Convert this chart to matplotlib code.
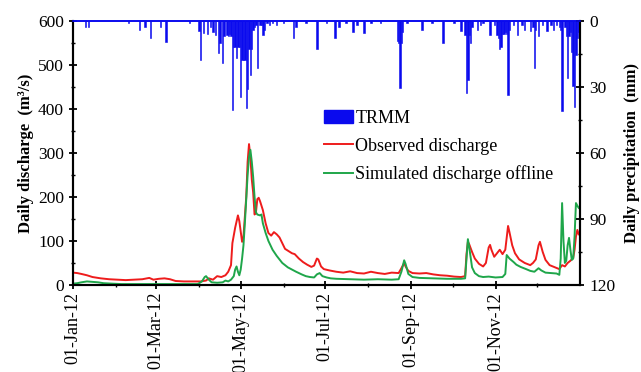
import numpy as np
import pandas as pd
import matplotlib
matplotlib.use("Agg")
import matplotlib.pyplot as plt
import matplotlib.dates as mdates
from matplotlib.patches import Patch
from matplotlib.lines import Line2D

plt.rcParams['font.family'] = ['Liberation Serif', 'DejaVu Serif']

start = pd.Timestamp("2012-01-01")

# observed discharge (day of year from 1 Jan 2012, m3/s)
obs_day = [0, 3, 6, 10, 14, 20, 26, 32, 38, 44, 50, 55, 58, 62, 66, 70, 74, 80, 86, 92,
           96, 98, 101, 104, 107, 110, 112, 114, 115, 117, 119, 120, 122, 123, 125, 126,
           127, 128, 129, 130, 131, 132, 133, 134, 135, 137, 139, 141, 143, 145, 147, 149,
           151, 153, 156, 158, 160, 163, 166, 169, 172, 174, 176, 177, 179, 181, 185, 190,
           195, 200, 205, 210, 215, 220, 225, 230, 235, 237, 239, 240, 242, 245, 250, 255,
           260, 265, 270, 275, 280, 283, 284, 285, 286, 288, 290, 293, 296, 298, 300, 301,
           302, 304, 306, 308, 310, 312, 314, 315, 317, 319, 322, 326, 330, 332, 334, 336,
           337, 339, 341, 344, 348, 351, 353, 355, 357, 359, 361, 362, 363, 364, 365]
obs_val = [28, 27, 25, 22, 18, 15, 13, 12, 11, 12, 13, 16, 12, 14, 15, 13, 9, 8, 8, 8,
           10, 15, 12, 20, 18, 22, 30, 45, 95, 130, 158, 145, 98, 110, 200, 280,
           320, 290, 240, 210, 160, 165, 195, 198, 190, 170, 140, 118, 112, 120, 115, 108,
           95, 82, 76, 72, 70, 60, 52, 46, 41, 44, 60, 58, 42, 36, 33, 30,
           28, 31, 27, 26, 30, 27, 25, 28, 27, 38, 50, 42, 32, 27, 26, 27,
           24, 22, 21, 19, 18, 20, 70, 98, 92, 75, 60, 48, 42, 50, 85, 91,
           80, 64, 72, 80, 70, 80, 134, 120, 90, 72, 58, 50, 45, 50, 58, 90,
           98, 75, 57, 45, 40, 36, 45, 42, 50, 55, 61, 80, 110, 125, 115]

# simulated discharge offline
sim_day = [0, 3, 6, 10, 14, 18, 22, 28, 35, 50, 70, 90, 93, 95, 96, 98, 100, 104, 108,
           110, 112, 114, 116, 117, 118, 119, 120, 121, 122, 123, 124, 125, 126, 127, 128,
           129, 130, 131, 132, 133, 135, 136, 137, 139, 141, 144, 147, 151, 155, 158, 161,
           165, 168, 171, 174, 176, 178, 180, 183, 186, 190, 200, 210, 220, 230, 235, 237,
           239, 240, 242, 245, 250, 260, 270, 280, 283, 284, 285, 286, 288, 290, 293, 296,
           300, 305, 310, 312, 313, 315, 318, 320, 323, 327, 330, 333, 336, 338, 341, 345,
           349, 351, 352, 353, 354, 355, 356, 357, 358, 359, 360, 361, 362, 363, 364, 365]
sim_val = [3, 4, 6, 8, 7, 6, 4, 3, 2, 2, 2, 2, 8, 18, 20, 12, 6, 5, 6,
           10, 8, 12, 20, 35, 42, 30, 22, 35, 60, 90, 140, 195, 250, 290, 307,
           280, 245, 200, 165, 160, 158, 160, 140, 118, 100, 80, 66, 50, 40, 35, 30,
           24, 20, 18, 17, 24, 27, 20, 17, 15, 14, 13, 12, 13, 12, 13, 30,
           56, 48, 25, 18, 16, 15, 14, 14, 15, 60, 104, 85, 40, 27, 20, 18,
           19, 17, 18, 25, 68, 60, 52, 46, 41, 36, 32, 30, 38, 33, 28, 27,
           26, 23, 60, 186, 100, 50, 55, 90, 107, 80, 57, 60, 110, 186, 180, 175]

# TRMM daily precipitation (mm)
rain_day = [9, 11, 40, 48, 52, 56, 63, 67, 84, 91, 92, 94, 97, 99, 101, 103, 105, 106, 108,
            109, 111, 112, 113, 114, 115, 116, 117, 118, 119, 120, 121, 122, 123, 124, 125,
            126, 127, 128, 129, 130, 131, 132, 133, 135, 136, 137, 138, 140, 142, 144, 147,
            152, 159, 161, 168, 176, 183, 189, 192, 197, 202, 205, 210, 215, 222, 234, 235,
            236, 237, 238, 241, 252, 259, 267, 275, 280, 283, 284, 285, 286, 287, 288, 292,
            294, 296, 301, 304, 306, 307, 308, 309, 310, 311, 312, 313, 314, 315, 318, 321,
            324, 326, 330, 332, 333, 334, 336, 339, 342, 345, 347, 349, 351, 352, 353, 355,
            356, 357, 358, 359, 360, 361, 362, 363, 364, 365]
rain_mm = [2.6, 2.6, 1, 4, 3, 7.7, 2.6, 9.5, 1, 4.8, 17.7, 5.6, 6, 3, 5, 6.4, 14.6, 10, 19,
           7, 6.4, 7, 6, 7, 40.5, 12, 12, 17, 12, 12, 34.4, 18, 18, 17.7, 39.7,
           31, 13, 24.5, 13, 4, 3, 2, 21.5, 2, 2, 6.4, 4, 1, 2, 1, 2,
           1, 7.8, 3, 1, 13, 1, 7.8, 2.6, 1, 5, 2, 5.6, 1, 1, 9, 10,
           30.6, 10, 5, 1, 4, 1, 10, 1, 4.8, 6.4, 32.7, 27, 6.4, 10, 3, 4,
           2, 1, 6.4, 2, 6.4, 8, 13, 11.7, 6, 6, 5, 6, 33.6, 4, 2, 6.4,
           2, 4, 4.8, 3, 21.5, 4, 7, 2, 4.8, 2, 4, 2, 3, 4, 41, 3,
           7, 26, 7, 5, 14, 29.8, 39, 15.5, 8, 5]

obs_t = start + pd.to_timedelta(obs_day, unit="D")
sim_t = start + pd.to_timedelta(sim_day, unit="D")
rain_t = start + pd.to_timedelta(rain_day, unit="D")

fig = plt.figure(figsize=(6.41, 3.72), dpi=100)
ax = fig.add_axes([0.114, 0.234, 0.791, 0.71])
ax2 = ax.twinx()

red = '#ee1c1c'
green = '#1fa64a'
blue = '#0a0aee'

ax.plot(obs_t, obs_val, color=red, lw=1.4, zorder=3)
ax.plot(sim_t, sim_val, color=green, lw=1.4, zorder=4)
ax2.bar(rain_t, rain_mm, width=1.0, color=blue, edgecolor=blue, linewidth=0.4)

ax.set_xlim(pd.Timestamp("2012-01-01"), pd.Timestamp("2013-01-01"))
ax.set_ylim(0, 600)
ax2.set_ylim(120, 0)
ax.set_yticks(np.arange(0, 601, 100))
ax.set_yticks(np.arange(0, 601, 50), minor=True)
ax2.set_yticks(np.arange(0, 121, 30))
ax2.set_yticks(np.arange(0, 121, 15), minor=True)

major_dates = pd.date_range("2012-01-01", "2012-11-01", freq="2MS")
minor_dates = pd.date_range("2012-02-01", "2012-12-01", freq="2MS")
ax.set_xticks(major_dates)
ax.set_xticks(minor_dates, minor=True)
ax.xaxis.set_major_formatter(mdates.DateFormatter("%d-%b-%y"))
plt.setp(ax.get_xticklabels(), rotation=90)

for a in (ax, ax2):
    a.spines['top'].set_color(blue)
    a.spines['top'].set_linewidth(1.2)
    for s in ('left', 'right', 'bottom'):
        a.spines[s].set_linewidth(1.5)
    a.tick_params(which='major', direction='inout', length=6, width=1.3, labelsize=12.5)
    a.tick_params(which='minor', direction='inout', length=3, width=1.0)
ax.tick_params(axis='x', labelsize=13, pad=2)

ax.set_ylabel("Daily discharge  (m\u00b3/s)", fontsize=12, fontweight='bold', labelpad=3)
ax2.set_ylabel("Daily precipitation  (mm)", fontsize=12, fontweight='bold', labelpad=6)

handles = [Patch(color=blue), Line2D([], [], color=red, lw=1.4),
           Line2D([], [], color=green, lw=1.4)]
labels = ["TRMM", "Observed discharge", "Simulated discharge offline"]
ax2.legend(handles, labels, loc='upper left', bbox_to_anchor=(0.48, 0.69), frameon=False,
           fontsize=13, handlelength=1.6, handletextpad=0.15, labelspacing=0.6,
           borderaxespad=0)

fig.savefig("out.png", dpi=100)
